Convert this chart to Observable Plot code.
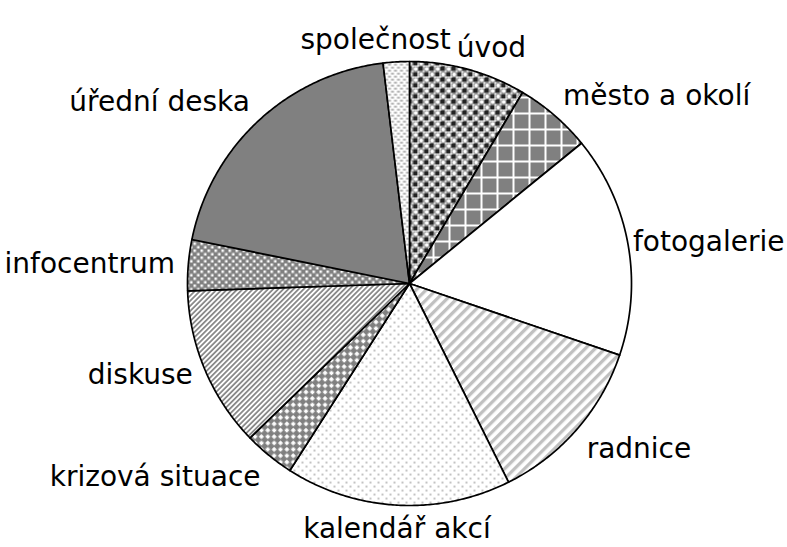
<!DOCTYPE html>
<html><head><meta charset="utf-8">
<script src="https://cdn.jsdelivr.net/npm/d3@7"></script>
<script src="https://cdn.jsdelivr.net/npm/@observablehq/plot@0.6"></script>
<style>body{margin:0;background:#fff}</style>
</head><body><div id="chart"></div>
<script>
// Data (share of visits per section)
const categories = ["úvod","město a okolí","fotogalerie","radnice","kalendář akcí","krizová situace","diskuse","infocentrum","úřední deska","společnost"];
const values = [8.5, 5.6, 16.1, 12.4, 16.4, 3.7, 11.7, 3.7, 19.9, 1.9];
const patternIds = ["uvod","mesto","foto","radnice","kalendar","krizova","diskuse","infocentrum","uredni","spolecnost"];

// Layout
const W = 787, H = 547, CX = 409, CY = 283, R = 222;
const FONT = "DejaVu Sans", FS = 28;

const total = d3.sum(values);
let acc = 0;
const slices = categories.map((c, i) => {
  const a0 = acc / total * 2 * Math.PI; acc += values[i];
  const a1 = acc / total * 2 * Math.PI;
  return {c, i, a0, a1, mid: (a0 + a1) / 2};
});
const rows = [];
for (const s of slices) {
  const fill = `url(#p-${patternIds[s.i]})`;
  rows.push({k: s.c, x: 0, y: 0, fill});
  const n = Math.max(2, Math.ceil((s.a1 - s.a0) / (Math.PI / 360)));
  for (let j = 0; j <= n; j++) {
    const a = s.a0 + (s.a1 - s.a0) * j / n;
    rows.push({k: s.c, x: Math.sin(a), y: Math.cos(a), fill});
  }
}

// Label placement: outside the slice at its mid angle, separate overlaps, keep inside the canvas
const ctx = document.createElement("canvas").getContext("2d");
ctx.font = `${FS}px "${FONT}"`;
const LR = 1.06;
const labels = slices.map(s => {
  const sx = Math.sin(s.mid), cy = Math.cos(s.mid);
  const w = ctx.measureText(s.c).width, h = FS * 1.1;
  const ta = Math.abs(sx) < 0.3 ? "middle" : sx > 0 ? "start" : "end";
  const la = cy > 0.5 ? "bottom" : cy < -0.5 ? "top" : "middle";
  const px = CX + LR * R * sx, py = CY - LR * R * cy;
  const left = ta === "start" ? px : ta === "end" ? px - w : px - w / 2;
  const top = la === "top" ? py : la === "bottom" ? py - h : py - h / 2;
  return {text: s.c, ta, la, px, py, left, top, w, h};
});
const GAP = 6, EDGE = 3;
for (let it = 0; it < 5; it++) {
  for (let i = 0; i < labels.length; i++) {
    const a = labels[i], b = labels[(i + 1) % labels.length];
    const ox = Math.min(a.left + a.w, b.left + b.w) - Math.max(a.left, b.left);
    const oy = Math.min(a.top + a.h, b.top + b.h) - Math.max(a.top, b.top);
    if (ox > -GAP && oy > 0) {
      const [l, r] = a.left < b.left ? [a, b] : [b, a];
      const shift = (ox + GAP) / 2;
      l.left -= shift; l.px -= shift; r.left += shift; r.px += shift;
    }
  }
}
for (const l of labels) {
  if (l.left + l.w > W - EDGE) { const d = l.left + l.w - (W - EDGE); l.left -= d; l.px -= d; }
  if (l.left < EDGE) { const d = EDGE - l.left; l.left += d; l.px += d; }
  l.x = (l.px - CX) / R; l.y = (CY - l.py) / R;
}
const textMarks = [];
for (const ta of ["start","middle","end"]) for (const la of ["top","middle","bottom"]) {
  const d = labels.filter(l => l.ta === ta && l.la === la);
  if (d.length) textMarks.push(Plot.text(d, {x: "x", y: "y", text: "text", textAnchor: ta, lineAnchor: la, fill: "#000", fontSize: FS}));
}

const svg = Plot.plot({
  width: W, height: H, margin: 0,
  style: {fontFamily: FONT, background: "#fff"},
  x: {domain: [-CX / R, (W - CX) / R], axis: null},
  y: {domain: [-(H - CY) / R, CY / R], axis: null},
  color: {type: "identity"},
  marks: [
    Plot.line(rows, {x: "x", y: "y", z: "k", fill: "fill", stroke: "#000", strokeWidth: 1.7, curve: "linear-closed", strokeLinejoin: "round"}),
    ...textMarks
  ]
});
d3.select(svg).insert("defs", ":first-child").html(`
<pattern id="p-uvod" patternUnits="userSpaceOnUse" width="11" height="11">
  <rect width="11" height="11" fill="#fff"/>
  <rect x="0" y="0" width="4.5" height="4.5" fill="#222"/>
  <rect x="5.5" y="5.5" width="4.5" height="4.5" fill="#222"/>
  <circle cx="8.2" cy="2.5" r="2.6" fill="#fff" stroke="#555" stroke-width="0.9"/>
  <circle cx="2.7" cy="8" r="2.6" fill="#fff" stroke="#555" stroke-width="0.9"/>
</pattern>
<pattern id="p-mesto" patternUnits="userSpaceOnUse" width="16" height="16">
  <rect width="16" height="16" fill="#808080"/>
  <rect x="0" y="0" width="2" height="16" fill="#fff"/>
  <rect x="0" y="0" width="16" height="2" fill="#fff"/>
</pattern>
<pattern id="p-foto" patternUnits="userSpaceOnUse" width="8" height="8">
  <rect width="8" height="8" fill="#fff"/>
</pattern>
<pattern id="p-radnice" patternUnits="userSpaceOnUse" width="7" height="7" patternTransform="rotate(45)">
  <rect width="7" height="7" fill="#fff"/>
  <rect x="0" y="0" width="3.3" height="7" fill="#c0c0c0"/>
</pattern>
<pattern id="p-kalendar" patternUnits="userSpaceOnUse" width="8" height="8">
  <rect width="8" height="8" fill="#fff"/>
  <circle cx="2" cy="2" r="0.85" fill="#888"/>
  <circle cx="6" cy="6" r="0.85" fill="#888"/>
</pattern>
<pattern id="p-krizova" patternUnits="userSpaceOnUse" width="9" height="9" patternTransform="rotate(45)">
  <rect width="9" height="9" fill="#808080"/>
  <rect x="0.6" y="0.6" width="3.6" height="3.6" fill="#fff"/>
  <rect x="5.1" y="5.1" width="3.6" height="3.6" fill="#fff"/>
</pattern>
<pattern id="p-diskuse" patternUnits="userSpaceOnUse" width="3.6" height="3.6" patternTransform="rotate(45)">
  <rect width="3.6" height="3.6" fill="#fff"/>
  <rect x="0" y="0" width="1.8" height="3.6" fill="#8a8a8a"/>
</pattern>
<pattern id="p-infocentrum" patternUnits="userSpaceOnUse" width="7" height="7">
  <rect width="7" height="7" fill="#808080"/>
  <rect x="0.5" y="0.5" width="2.5" height="2.5" fill="#fff"/>
  <rect x="4" y="4" width="2.5" height="2.5" fill="#fff"/>
</pattern>
<pattern id="p-uredni" patternUnits="userSpaceOnUse" width="8" height="8">
  <rect width="8" height="8" fill="#808080"/>
</pattern>
<pattern id="p-spolecnost" patternUnits="userSpaceOnUse" width="6" height="6">
  <rect width="6" height="6" fill="#fff"/>
  <rect x="0.5" y="0.5" width="3" height="1.5" fill="#999"/>
  <rect x="3.5" y="3.5" width="3" height="1.5" fill="#999"/>
  <rect x="-2.5" y="3.5" width="3" height="1.5" fill="#999"/>
</pattern>`);
document.getElementById("chart").appendChild(svg);
</script>
</body></html>
